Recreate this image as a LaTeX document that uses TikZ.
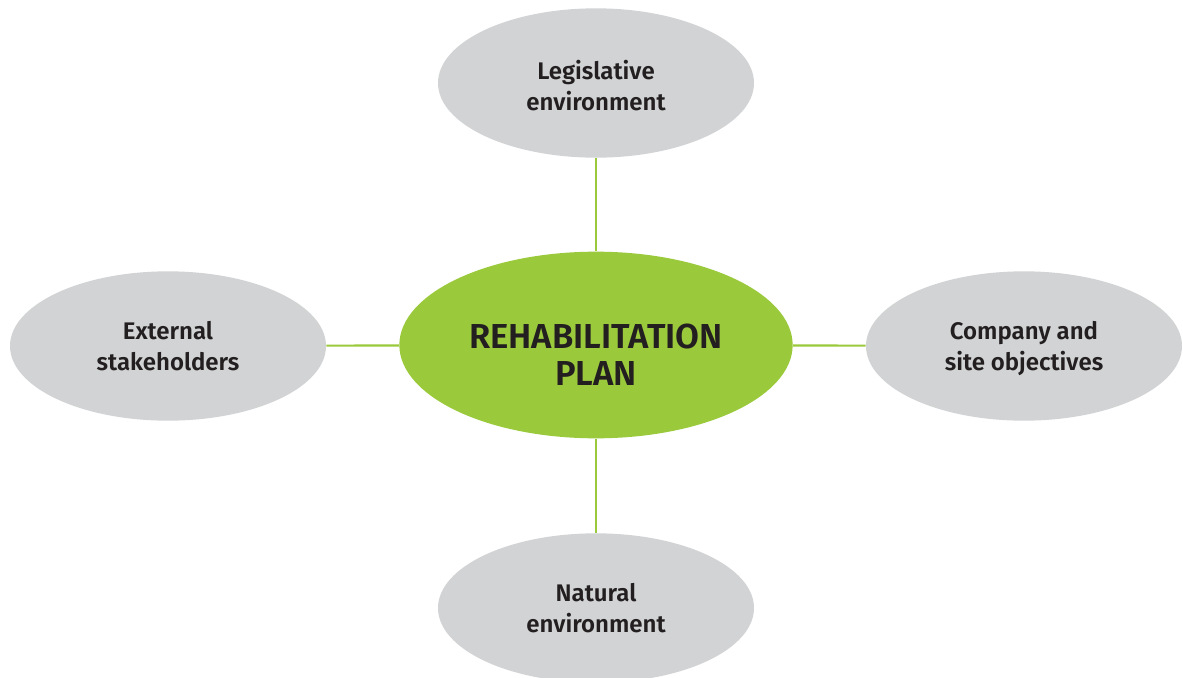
\documentclass[tikz,border=0pt]{standalone}
\usepackage{fontspec}
\setmainfont{Fira Sans}[BoldFont={Fira Sans SemiBold}]
\usetikzlibrary{shapes.geometric}
\definecolor{planGreen}{HTML}{9ACA3C}
\definecolor{factorGrey}{HTML}{D1D3D4}
\definecolor{textDark}{HTML}{231F20}
\tikzset{every text node part/.style={align=center}}
\tikzset{factor/.style={ellipse, fill=factorGrey, minimum width=237pt, minimum height=112pt, inner sep=0pt}}
\tikzset{plan/.style={ellipse, fill=planGreen, minimum width=295pt, minimum height=140pt, inner sep=0pt}}
\tikzset{factortext/.style={text=textDark, font=\fontsize{18}{23.25}\selectfont\bfseries}}
\tikzset{plantext/.style={text=textDark, font=\fontsize{26}{27.75}\selectfont\bfseries}}
\tikzset{link/.style={planGreen, line width=1.6pt}}

\begin{document}
\begin{tikzpicture}[x=0.75pt, y=-0.75pt]
	
	% Canvas
	\useasboundingbox (0,0) rectangle (1183,678);
	
	% Ellipses
	\node[plan] (plan) at (596,345) {};
	\node[factor] (legal) at (596,83) {};
	\node[factor] (external) at (168,346) {};
	\node[factor] (company) at (1024,346) {};
	\node[factor] (natural) at (596,608) {};
	
	% Texts
	\node[plantext] (plantxt) at ([yshift=-7.5pt]plan.center) {REHABILITATION\\PLAN};
	\node[factortext] (legaltxt) at ([yshift=-2pt]legal.center) {Legislative\\environment};
	\node[factortext] (externaltxt) at (external.center) {External\\stakeholders};
	\node[factortext, text depth=0pt] (companytxt) at (company.center) {Company and\\site objectives};
	\node[factortext] (naturaltxt) at (natural.center) {Natural\\environment};
	
	% Links
	\draw[link] (legal) -- (plan);
	\draw[link] (external) -- (plan);
	\draw[link] (plan) -- (company);
	\draw[link] (plan) -- (natural);
\end{tikzpicture}
\end{document}
